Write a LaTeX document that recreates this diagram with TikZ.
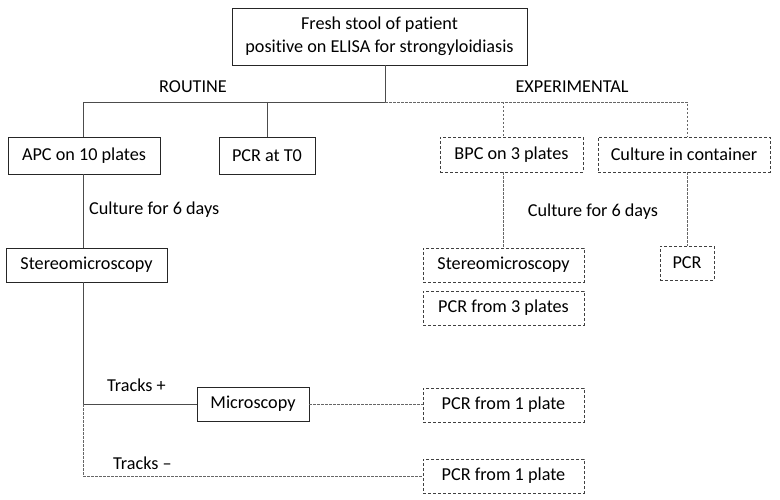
\documentclass[tikz,border=0pt]{standalone}
\usepackage{fontspec}
\setmainfont[Ligatures=NoCommon]{Carlito}
\begin{document}
\begin{tikzpicture}[x=1pt,y=-1pt,
  every node/.style={font=\fontsize{18.2}{23}\selectfont, text=black},
  sbox/.style={draw=black!85, line width=0.9pt, inner sep=0pt, align=center},
  dbox/.style={draw=black!75, line width=0.9pt, dash pattern=on 3pt off 2pt, inner sep=0pt, align=center},
  sline/.style={draw=black!70, line width=0.8pt},
  dline/.style={draw=black!60, line width=0.8pt, dash pattern=on 2.5pt off 1.5pt},
  lbl/.style={inner sep=0pt}]
\useasboundingbox (0,0) rectangle (780,500);
\node[sbox, minimum width=295pt, minimum height=57pt] (top) at (379.5,36.5) {Fresh stool of patient\\positive on ELISA for strongyloidiasis};
\node[sbox, minimum width=152pt, minimum height=37pt] (apc) at (84,155.5) {APC on 10 plates};
\node[sbox, minimum width=96pt, minimum height=37pt] (t0) at (267,155.5) {PCR at T0};
\node[dbox, minimum width=143pt, minimum height=35pt] (bpc) at (511.5,154.5) {BPC on 3 plates};
\node[dbox, minimum width=172pt, minimum height=35pt] (cc) at (684,154.5) {Culture in container};
\node[sbox, minimum width=161pt, minimum height=34pt] (sl) at (86.5,265) {Stereomicroscopy};
\node[dbox, minimum width=161pt, minimum height=34pt] (sr) at (503.5,265) {Stereomicroscopy};
\node[dbox, minimum width=161pt, minimum height=34pt] (p3) at (503.5,308) {PCR from 3 plates};
\node[dbox, minimum width=54pt, minimum height=34pt] (pcr) at (687,263) {PCR};
\node[sbox, minimum width=112pt, minimum height=34pt] (mic) at (253,404) {Microscopy};
\node[dbox, minimum width=161pt, minimum height=34pt] (p1a) at (503.5,405) {PCR from 1 plate};
\node[dbox, minimum width=161pt, minimum height=34pt] (p1b) at (503.5,476) {PCR from 1 plate};

\node[lbl] (routine) at (193,87) {ROUTINE};
\node[lbl] (exper) at (572,87) {EXPERIMENTAL};
\node[lbl, anchor=west] (cul1) at (89,210) {Culture for 6 days};
\node[lbl] (cul2) at (593,212) {Culture for 6 days};
\node[lbl, anchor=west] (tp) at (107,385) {Tracks +};
\node[lbl, anchor=west] (tm) at (113,463) {Tracks –};

\coordinate (j) at (385,102);
\coordinate (k) at (83,404);
\coordinate (la) at (83,0);

\draw[sline] (top.south -| j) -- (j);
\draw[sline] (j) -- (la |- j) -- (la |- apc.north);
\draw[sline] (t0.north |- j) -- (t0.north);
\draw[dline] (j) -- (pcr.north |- j) -- (pcr.north |- cc.north);
\draw[dline] (sr.north |- j) -- (sr.north |- bpc.north);
\draw[dline] (sr.north |- bpc.south) -- (sr.north);
\draw[dline] (pcr.north |- cc.south) -- (pcr.north);
\draw[sline] (la |- apc.south) -- (la |- sl.north);
\draw[sline] (la |- sl.south) -- (k) -- (mic.west);
\draw[dline] (mic.east) -- (p1a.west |- mic.east);
\draw[dline] (k) -- (k |- p1b.west) -- (p1b.west);
\end{tikzpicture}
\end{document}
